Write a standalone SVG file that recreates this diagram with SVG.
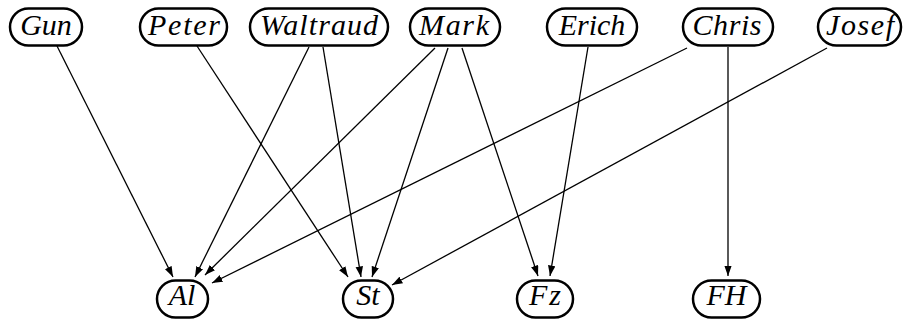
<svg xmlns="http://www.w3.org/2000/svg" width="903" height="322" viewBox="0 0 903 322">
  <style>
    .box { fill: #fff; stroke: #000; stroke-width: 2.5; }
    .lbl { font-family: "Liberation Serif", "Times New Roman", serif; font-style: italic; font-weight: normal; font-size: 30px; fill: #000; text-anchor: middle; }
    .edge { stroke: #000; stroke-width: 1.3; fill: none; marker-end: url(#arrow); }
  </style>
  <defs>
    <marker id="arrow" markerUnits="userSpaceOnUse" markerWidth="11" markerHeight="8" refX="10.5" refY="3.75" orient="auto">
      <path d="M0,0 L10.5,3.75 L0,7.5 z" fill="#000"/>
    </marker>
  </defs>
  <rect width="903" height="322" fill="#fff"/>

  <!-- connectors -->
  <g id="edges">
    <line class="edge" x1="57" y1="46" x2="173" y2="277"/>
    <line class="edge" x1="197" y1="46" x2="348" y2="277"/>
    <line class="edge" x1="309" y1="47" x2="195" y2="277"/>
    <line class="edge" x1="323" y1="47" x2="361" y2="277"/>
    <line class="edge" x1="435" y1="48" x2="205" y2="275"/>
    <line class="edge" x1="448" y1="48" x2="372" y2="277"/>
    <line class="edge" x1="462" y1="48" x2="538" y2="276"/>
    <line class="edge" x1="588" y1="47" x2="550" y2="276"/>
    <line class="edge" x1="687" y1="48" x2="212" y2="283"/>
    <line class="edge" x1="728" y1="47" x2="728" y2="276"/>
    <line class="edge" x1="827" y1="48" x2="392" y2="285"/>
  </g>

  <!-- upper row -->
  <g id="Gun"><rect class="box" x="10" y="8.5" width="72" height="37" rx="18.5"/><text class="lbl" x="46" y="35">Gun</text></g>
  <g id="Peter"><rect class="box" x="140" y="8.5" width="87" height="37" rx="18.5"/><text class="lbl" x="184" y="35" textLength="72" lengthAdjust="spacing">Peter</text></g>
  <g id="Waltraud"><rect class="box" x="250" y="8.5" width="138" height="37" rx="18.5"/><text class="lbl" x="319" y="35" textLength="118" lengthAdjust="spacing">Waltraud</text></g>
  <g id="Mark"><rect class="box" x="410" y="8.5" width="90" height="37" rx="18.5"/><text class="lbl" x="454" y="35" textLength="70" lengthAdjust="spacing">Mark</text></g>
  <g id="Erich"><rect class="box" x="547" y="8.5" width="90" height="37" rx="18.5"/><text class="lbl" x="592" y="35">Erich</text></g>
  <g id="Chris"><rect class="box" x="683" y="8.5" width="90" height="37" rx="18.5"/><text class="lbl" x="727" y="35" textLength="69" lengthAdjust="spacing">Chris</text></g>
  <g id="Josef"><rect class="box" x="818" y="8.5" width="83" height="37" rx="18.5"/><text class="lbl" x="860" y="35" textLength="68" lengthAdjust="spacing">Josef</text></g>

  <!-- lower row -->
  <g id="Al"><rect class="box" x="157" y="280.5" width="51" height="37" rx="18.5"/><text class="lbl" x="182" y="305">Al</text></g>
  <g id="St"><rect class="box" x="343" y="280.5" width="50" height="37" rx="18.5"/><text class="lbl" x="368" y="305">St</text></g>
  <g id="Fz"><rect class="box" x="517" y="280.5" width="56" height="37" rx="18.5"/><text class="lbl" x="545" y="305" textLength="32" lengthAdjust="spacing">Fz</text></g>
  <g id="FH"><rect class="box" x="693" y="280.5" width="67" height="37" rx="18.5"/><text class="lbl" x="726.5" y="305">FH</text></g>
</svg>
